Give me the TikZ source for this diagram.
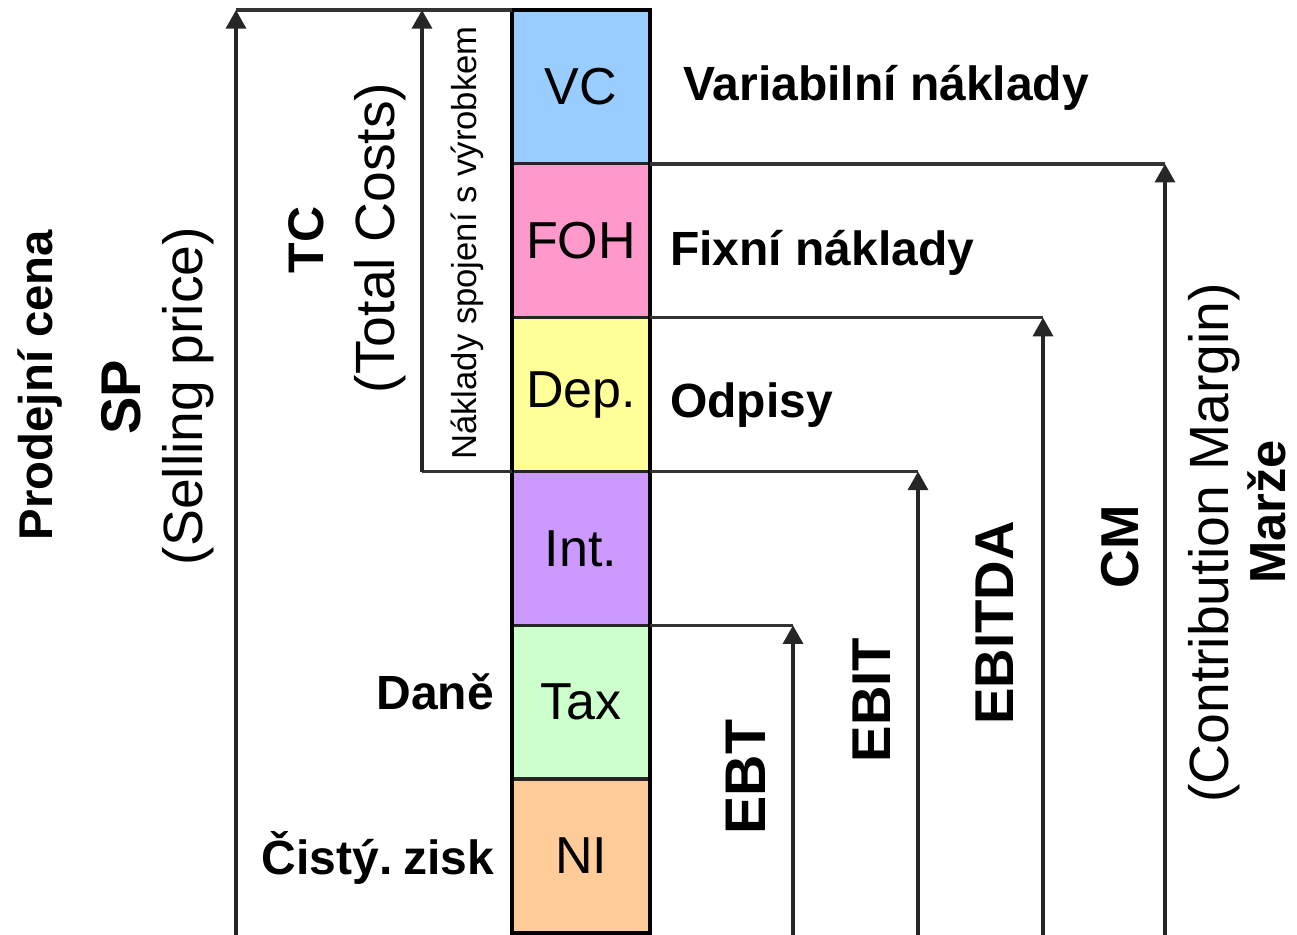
\documentclass[tikz,border=0pt]{standalone}
\usepackage{fontspec}
\setmainfont{Liberation Sans}
\usetikzlibrary{arrows.meta}
\definecolor{cvc}{HTML}{99CCFF}
\definecolor{cfoh}{HTML}{FF99CC}
\definecolor{cdep}{HTML}{FFFF99}
\definecolor{cint}{HTML}{CC99FF}
\definecolor{ctax}{HTML}{CCFFCC}
\definecolor{cni}{HTML}{FFCC99}
\begin{document}
\begin{tikzpicture}[x=0.75pt,y=-0.75pt,
  seg/.style={draw=black!85, line width=2.5pt, minimum width=103.5pt, minimum height=115.37pt,
    inner sep=0pt, outer sep=0pt, anchor=north west, font=\fontsize{39}{44}\selectfont},
  ln/.style={line width=2.6pt, draw=black!80},
  arr/.style={line width=2.6pt, draw=black!85, -{Triangle[width=15pt,length=14pt]}},
  bold/.style={font=\fontsize{36}{40}\selectfont\bfseries, inner sep=0pt},
  vb/.style={rotate=90, inner sep=0pt, anchor=base, font=\fontsize{#1}{#1}\selectfont\bfseries},
  paren/.style={font=\fontsize{41.5}{46}\selectfont, inner sep=0pt, rotate=90},
  small/.style={font=\fontsize{26}{30}\selectfont, inner sep=0pt, rotate=90}]
\useasboundingbox (0,0) rectangle (1297,935);
\fill[white] (0,0) rectangle (1297,935);

% column segments
\node[seg, fill=cvc]  (vc)  at (512,10)     {VC};
\node[seg, fill=cfoh] (foh) at (512,163.83) {FOH};
\node[seg, fill=cdep] (dep) at (512,317.67) {Dep.};
\node[seg, fill=cint] (int) at (512,471.5)  {Int.};
\node[seg, fill=ctax] (tax) at (512,625.33) {Tax};
\node[seg, fill=cni]  (ni)  at (512,779.17) {NI};
\draw[line width=3.5pt] (vc.north west) rectangle (ni.south east);

% base coordinates
\coordinate (spb) at (236,935);
\coordinate (tcb) at (422,935);
\coordinate (ebtb) at (793,935);
\coordinate (ebitb) at (918,935);
\coordinate (ebitdab) at (1043,935);
\coordinate (cmb) at (1165,935);

% SP
\draw[ln] (vc.north west) -- (vc.north west -| spb);
\draw[arr] (spb) -- (vc.north west -| spb);
% TC
\draw[ln] (dep.south west) -- (dep.south west -| tcb);
\draw[arr] (dep.south west -| tcb) -- (vc.north west -| tcb);
% CM
\draw[ln] (vc.south east) -- (vc.south east -| cmb);
\draw[arr] (cmb) -- (vc.south east -| cmb);
% EBITDA
\draw[ln] (foh.south east) -- (foh.south east -| ebitdab);
\draw[arr] (ebitdab) -- (foh.south east -| ebitdab);
% EBIT
\draw[ln] (dep.south east) -- (dep.south east -| ebitb);
\draw[arr] (ebitb) -- (dep.south east -| ebitb);
% EBT
\draw[ln] (int.south east) -- (int.south east -| ebtb);
\draw[arr] (ebtb) -- (int.south east -| ebtb);

% horizontal labels
\node[bold, anchor=west] (lvc) at (683,88) {Variabilní náklady};
\node[bold, anchor=west] (lfoh) at (670,253) {Fixní náklady};
\node[bold, anchor=west] (ldep) at (670,405) {Odpisy};
\node[bold, anchor=east] (ltax) at (494,692) {Daně};
\node[bold, anchor=east] (lni) at (494,858) {Čistý.\hspace{0.22em}zisk};

% rotated labels
\node[vb=35.5] (lpc) at (52,385) {Prodejní cena};
\node[vb=42] (lsp) at (140,397) {SP};
\node[paren] (lsel) at (188,396) {(Selling price)};
\node[vb=37.5] (ltc) at (323,240) {TC};
\node[paren] (ltot) at (380,238) {(Total Costs)};
\node[small] (lspoj) at (467,243) {Náklady spojení s výrobkem};
\node[vb=43] (lebt) at (765,777) {EBT};
\node[vb=41] (lebit) at (890,700) {EBIT};
\node[vb=41] (lebitda) at (1013,623) {EBITDA};
\node[vb=40] (lcm) at (1138,547) {CM};
\node[paren] (lcon) at (1214,543) {(Contribution Margin)};
\node[vb=38] (lmar) at (1285,512) {Marže};
\end{tikzpicture}
\end{document}
